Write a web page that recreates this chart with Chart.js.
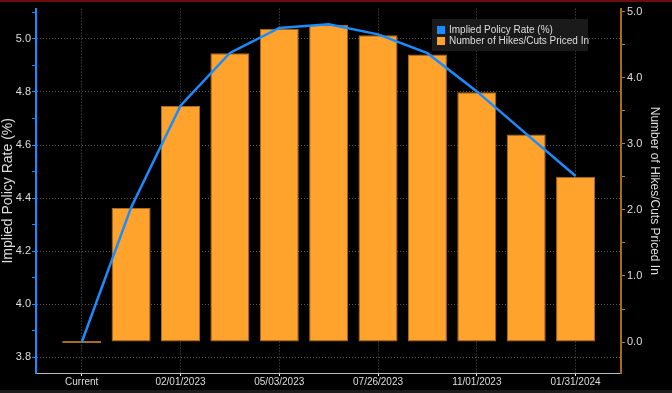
<!DOCTYPE html>
<html lang="en">
  <head>
    <meta charset="UTF-8" />
    <title>Implied Policy Rate</title>
    <script src="https://cdn.jsdelivr.net/npm/chart.js"></script>
    <style>
      html,
      body {
        margin: 0;
        padding: 0;
        background-color: #000;
      }
      .wrap {
        position: relative;
        width: 672px;
        height: 393px;
      }
      .top-strip {
        position: absolute;
        left: 0;
        top: 0;
        width: 672px;
        height: 2px;
        background-color: #6e0c0c;
      }
      .bottom-strip {
        position: absolute;
        left: 0;
        bottom: 0;
        width: 672px;
        height: 3px;
        background-color: #1c1c1c;
      }
    </style>
  </head>
  <body>
    <div class="wrap">
      <canvas id="chart" width="672" height="393"></canvas>
      <div class="top-strip"></div>
      <div class="bottom-strip"></div>
    </div>

    <script>
      // data
      const meetingLabels = [
        "Current",
        "12/14/2022",
        "02/01/2023",
        "03/22/2023",
        "05/03/2023",
        "06/14/2023",
        "07/26/2023",
        "09/20/2023",
        "11/01/2023",
        "12/13/2023",
        "01/31/2024",
      ];
      const impliedRate = [
        3.857, 4.365, 4.748, 4.947, 5.041, 5.055, 5.017, 4.946, 4.802, 4.642,
        4.483,
      ];
      const hikesPriced = [
        0, 2.03, 3.57, 4.37, 4.74, 4.8, 4.64, 4.35, 3.78, 3.14, 2.5,
      ];
      const shownLabelIdx = [0, 2, 4, 6, 8, 10];
      const rateTicks = [3.8, 4.0, 4.2, 4.4, 4.6, 4.8, 5.0];
      const hikeTicks = [0, 1, 2, 3, 4, 5];

      const BLUE = "#1a8cff";
      const ORANGE = "#ffa32c";
      const ORANGE_EDGE = "#a86a1c";
      const GRID = "#5a5a5a";
      const TEXT = "#dedede";
      const FONT = "'Liberation Sans', Arial, sans-serif";

      const isMajor = (v, list) => list.some((t) => Math.abs(t - v) < 1e-6);

      // small legend box drawn inside the plot, top right
      const legendBox = {
        id: "legendBox",
        afterDraw(chart) {
          const ctx = chart.ctx;
          ctx.save();
          ctx.fillStyle = "#1a1a1a";
          ctx.fillRect(432, 19, 156, 32);
          ctx.font = "10px " + FONT;
          ctx.textBaseline = "middle";
          chart.data.datasets
            .slice()
            .sort((a, b) => a.legendRow - b.legendRow)
            .forEach((ds, i) => {
              const y = 30 + i * 11;
              ctx.fillStyle = ds.legendColor;
              ctx.fillRect(437, y - 4, 8, 8);
              ctx.fillStyle = TEXT;
              ctx.fillText(ds.label, 449, y + 0.5);
            });
          ctx.restore();
        },
      };

      new Chart(document.getElementById("chart"), {
        data: {
          datasets: [
            {
              type: "line",
              label: "Implied Policy Rate (%)",
              data: impliedRate.map((v, i) => ({ x: i, y: v })),
              borderColor: BLUE,
              borderWidth: 2.5,
              pointRadius: 0,
              tension: 0,
              yAxisID: "y",
              order: 0,
              legendRow: 0,
              legendColor: BLUE,
            },
            {
              type: "bar",
              label: "Number of Hikes/Cuts Priced In",
              data: hikesPriced.map((v, i) => ({ x: i, y: v })),
              backgroundColor: ORANGE,
              borderColor: ORANGE_EDGE,
              borderWidth: 1,
              borderSkipped: false,
              minBarLength: 2,
              barPercentage: 0.79,
              categoryPercentage: 1,
              yAxisID: "y1",
              order: 1,
              legendRow: 1,
              legendColor: ORANGE,
            },
          ],
        },
        options: {
          responsive: false,
          animation: false,
          layout: { padding: { top: 8, left: 0, right: 0, bottom: 0 } },
          plugins: {
            legend: { display: false },
            tooltip: { enabled: false },
          },
          scales: {
            x: {
              type: "linear",
              offset: false,
              min: -0.926,
              max: 10.92,
              afterBuildTicks: (scale) => {
                scale.ticks = shownLabelIdx.map((v) => ({ value: v }));
              },
              afterFit: (scale) => {
                scale.height = 20;
              },
              ticks: {
                autoSkip: false,
                maxRotation: 0,
                padding: 0,
                color: TEXT,
                font: { family: FONT, size: 10 },
                callback: (v) => meetingLabels[v],
              },
              grid: {
                offset: false,
                color: GRID,
                tickColor: "#f0f0f0",
                tickLength: 3,
              },
              border: { color: "#bdbdbd", width: 1, dash: [1, 2] },
            },
            y: {
              position: "left",
              min: 3.741,
              max: 5.114,
              afterBuildTicks: (scale) => {
                const all = [];
                rateTicks.forEach((t) => {
                  all.push({ value: t });
                  all.push({ value: Math.round((t + 0.1) * 10) / 10 });
                });
                scale.ticks = all;
              },
              afterFit: (scale) => {
                scale.width = 36;
              },
              ticks: {
                padding: 1,
                color: TEXT,
                font: { family: FONT, size: 11 },
                callback: (v) => (isMajor(v, rateTicks) ? v.toFixed(1) : ""),
              },
              grid: {
                color: (c) =>
                  c.tick && isMajor(c.tick.value, rateTicks)
                    ? GRID
                    : "rgba(0,0,0,0)",
                tickColor: BLUE,
                tickLength: 4,
              },
              border: { color: BLUE, width: 2, dash: [1, 2] },
              title: {
                display: true,
                text: "Implied Policy Rate (%)",
                color: TEXT,
                font: { family: FONT, size: 14 },
                padding: { top: 0, bottom: 0 },
              },
            },
            y1: {
              position: "right",
              min: -0.468,
              max: 5.045,
              afterBuildTicks: (scale) => {
                const all = [];
                hikeTicks.forEach((t) => {
                  all.push({ value: t });
                  if (t < 5) all.push({ value: t + 0.5 });
                });
                scale.ticks = all;
              },
              afterFit: (scale) => {
                scale.width = 51;
              },
              ticks: {
                padding: 2,
                color: TEXT,
                font: { family: FONT, size: 11 },
                callback: (v) => (isMajor(v, hikeTicks) ? v.toFixed(1) : ""),
              },
              grid: {
                drawOnChartArea: false,
                tickColor: "#c07c26",
                tickLength: 4,
              },
              border: { color: ORANGE_EDGE, width: 2 },
              title: {
                display: true,
                text: "Number of Hikes/Cuts Priced In",
                color: TEXT,
                font: { family: FONT, size: 12 },
                padding: { top: 10, bottom: 0 },
              },
            },
          },
        },
        plugins: [legendBox],
      });
    </script>
  </body>
</html>
